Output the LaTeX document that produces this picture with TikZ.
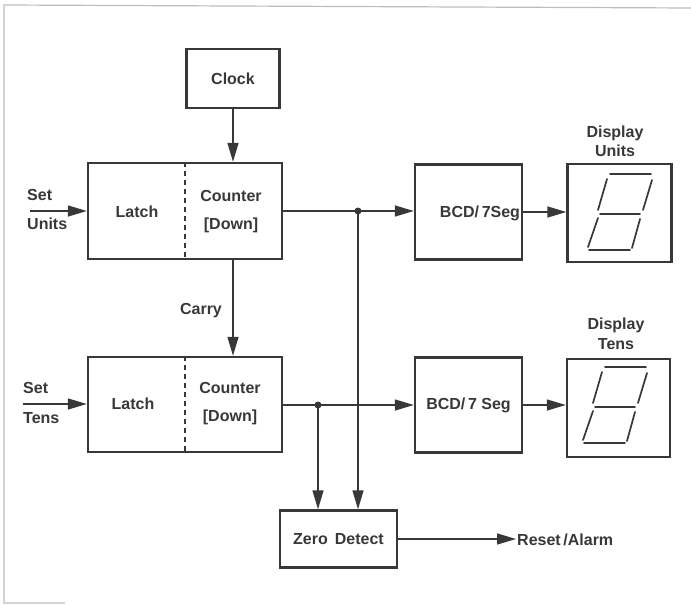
\documentclass[tikz,border=0pt]{standalone}
\usepackage{fontspec}
\setmainfont{Liberation Sans}
\usetikzlibrary{arrows.meta}
\definecolor{ink}{HTML}{383838}
\definecolor{scan}{HTML}{BDBDBD}

\tikzset{
  digit/.pic={
    \draw[seg] (-10,-38) -- (31,-38);
    \draw[seg] (-13,-33) -- (-22,-2);
    \draw[seg] (32,-32) -- (23,-2);
    \draw[seg] (-20,2) -- (20,2);
    \draw[seg] (-22,6) -- (-32,35);
    \draw[seg] (20,7) -- (12,36);
    \draw[seg] (-31,38) -- (10,38);
  }
}

\begin{document}
\begin{tikzpicture}[x=1pt, y=-1pt,
  box/.style={draw=ink, line width=2.4pt, inner sep=0pt},
  lbl/.style={font=\bfseries\fontsize{16}{19}\selectfont, text=ink, inner sep=1pt},
  twoline/.style={lbl, align=center, font=\bfseries\fontsize{16}{28}\selectfont},
  wire/.style={draw=ink, line width=1.5pt},
  arr/.style={wire, -{Triangle[length=19pt,width=11pt]}},
  seg/.style={draw=ink, line width=1.7pt, line cap=round},
  dot/.style={circle, fill=ink, inner sep=0pt, minimum size=7pt}
]
\useasboundingbox (0,0) rectangle (691,605);
% frame of the scanned page
\draw[scan, line width=1.2pt] (65,603) -- (4,603) -- (4,5) -- (691,8);

% clock
\node[box, lbl, minimum width=93pt, minimum height=59pt] (clock) at (233,78.5) {Clock};

% units counter
\node[box, minimum width=194pt, minimum height=96pt] (cntU) at (185,211) {};
\draw[ink, line width=1.5pt, dash pattern=on 5pt off 4pt] (cntU.north) -- (cntU.south);
\node[lbl] (latchU) at (137,212) {Latch};
\node[twoline] (ctrU) at (231,212) {Counter\\{}[Down]};
\node[lbl, anchor=west] (setU) at (26,195) {Set};
\node[lbl, anchor=west] (unitsU) at (26,224) {Units};
\coordinate (inU) at (30,211);

% tens counter
\node[box, minimum width=194pt, minimum height=95pt] (cntL) at (185,404.5) {};
\draw[ink, line width=1.5pt, dash pattern=on 5pt off 4pt] (cntL.north) -- (cntL.south);
\node[lbl] (latchL) at (133,404) {Latch};
\node[twoline] (ctrL) at (230,404) {Counter\\{}[Down]};
\node[lbl, anchor=west] (setL) at (22,388) {Set};
\node[lbl, anchor=west] (tensL) at (22,418) {Tens};
\coordinate (inL) at (23,404);
\node[lbl] (carry) at (201,311) {Carry};

% decoders
\node[box, minimum width=107pt, minimum height=95pt] (bcdU) at (468.5,212) {};
\node[lbl] (bcdtxtU) at (480,213) {BCD/\,7Seg};
\node[box, lbl, minimum width=107pt, minimum height=95pt] (bcdL) at (468.5,405) {BCD/\,7 Seg};

% displays
\node[box, minimum width=104pt, minimum height=98pt] (dispU) at (619.5,213) {};
\node[lbl, align=center, font=\bfseries\fontsize{16}{19}\selectfont] (dlabU) at (615,141) {Display\\Units};
\pic at (620,212) {digit};
\node[box, minimum width=103pt, minimum height=98pt] (dispL) at (618.5,408) {};
\node[lbl, align=center, font=\bfseries\fontsize{16}{20}\selectfont] (dlabL) at (616,334) {Display\\Tens};
\pic at (615,405) {digit};

% zero detect
\node[box, lbl, minimum width=117pt, minimum height=57pt] (zero) at (338.5,539) {Zero\hspace{7pt}Detect};
\node[lbl, anchor=west] (reset) at (516,540) {Reset\,/Alarm};

% junctions
\node[dot] (jU) at (358,211) {};
\node[dot] (jL) at (318,405) {};

% connections
\draw[arr] (clock.south) -- (clock.south |- cntU.north);
\draw[arr] (cntU.south -| clock) -- (cntL.north -| clock);
\draw[arr] (inU) -- (cntU.west);
\draw[arr] (inL) -- (inL -| cntL.west);
\draw[arr] (cntU.east) -- (cntU.east -| bcdU.west);
\draw[arr] (cntL.east |- jL) -- (jL -| bcdL.west);
\draw[arr] (bcdU.east) -- (bcdU.east -| dispU.west);
\draw[arr] (bcdL.east) -- (bcdL.east -| dispL.west);
\draw[arr] (jU.center) -- (jU |- zero.north);
\draw[arr] (jL.center) -- (jL |- zero.north);
\draw[arr] (zero.east) -- (zero.east -| reset.west);
\end{tikzpicture}
\end{document}
